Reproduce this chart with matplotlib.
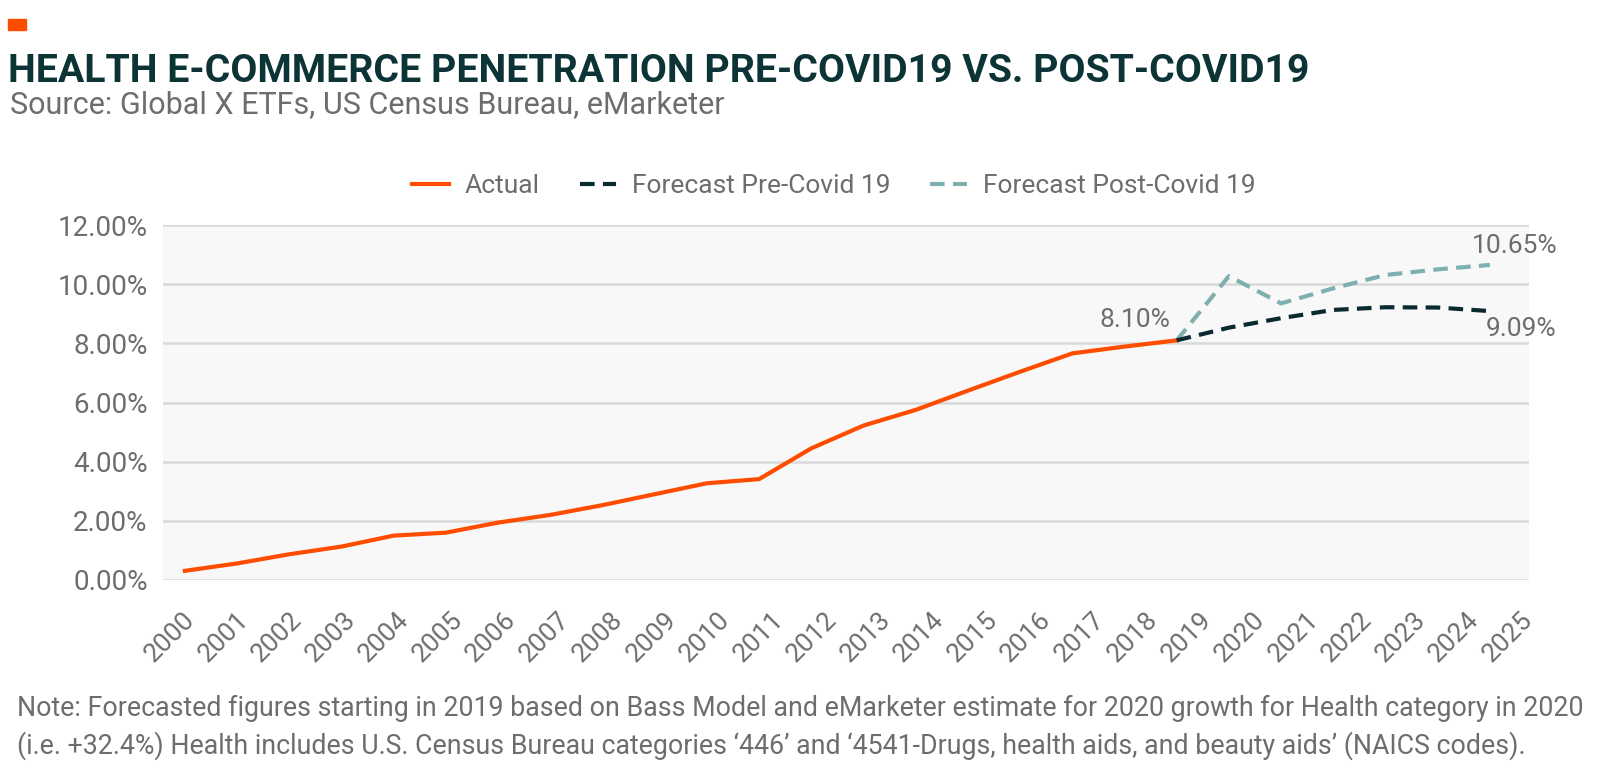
import numpy as np
import matplotlib
matplotlib.use("Agg")
import matplotlib.pyplot as plt
from matplotlib.ticker import FuncFormatter

plt.rcParams['font.family'] = ['Roboto', 'DejaVu Sans']

# data
years = [str(y) for y in range(2000, 2026)]
actual = [0.31, 0.56, 0.87, 1.13, 1.50, 1.60, 1.94, 2.20, 2.53, 2.90,
          3.27, 3.41, 4.45, 5.22, 5.75, 6.40, 7.04, 7.66, 7.89, 8.10]
pre_covid = [8.10, 8.53, 8.85, 9.13, 9.22, 9.21, 9.09]
post_covid = [8.10, 10.27, 9.35, 9.86, 10.31, 10.50, 10.65]
yticks = [0, 2, 4, 6, 8, 10, 12]

orange = '#FF4D00'
dark = '#0B2A30'
light = '#7FB0B0'
grey = '#6D6D6D'

fig = plt.figure(figsize=(16.04, 7.80), dpi=100)
ax = fig.add_axes([163/1604, 1-580/780, (1529-163)/1604, (580-225)/780])
ax.set_facecolor('#F8F8F8')

x_act = np.arange(len(actual))
x_fc = np.arange(len(actual)-1, len(actual)-1+len(pre_covid))

ax.plot(x_act, actual, color=orange, lw=3, label='Actual', zorder=3)
ax.plot(x_fc, pre_covid, color=dark, lw=3, dashes=(3.5, 2), label='Forecast Pre-Covid 19', zorder=3)
ax.plot(x_fc, post_covid, color=light, lw=3, dashes=(3.5, 2), label='Forecast Post-Covid 19', zorder=2)

ax.set_xlim(-0.42, 25.75)
ax.set_ylim(0, 12)
ax.set_yticks(yticks)
ax.yaxis.set_major_formatter(FuncFormatter(lambda v, p: f'{v:.2f}%'))
ax.grid(axis='y', color='#D9D9D9', lw=1.8)
ax.set_axisbelow(True)
for s in ax.spines.values():
    s.set_visible(False)
ax.tick_params(axis='both', length=0, labelsize=20, colors=grey)
ax.tick_params(axis='y', pad=11)

# category labels sit slightly wider apart than the plotted points in the original
ax.set_xticks(np.arange(len(years)) * 1.025 - 0.04)
ax.set_xticklabels(years, rotation=45, ha='right', va='top', rotation_mode='anchor')
ax.tick_params(axis='x', pad=20, labelsize=19)

# value labels
ax.annotate('8.10%', (x_act[-1], actual[-1]), xytext=(-6, 8), textcoords='offset pixels',
            ha='right', va='bottom', fontsize=19, color=grey)
ax.annotate('10.65%', (x_fc[-1], post_covid[-1]), xytext=(-18, 7), textcoords='offset pixels',
            ha='left', va='bottom', fontsize=19, color=grey)
ax.annotate('9.09%', (x_fc[-1], pre_covid[-1]), xytext=(-4, -6), textcoords='offset pixels',
            ha='left', va='top', fontsize=19, color=grey)

fig.legend(loc='center', bbox_to_anchor=(834/1604, 1-186/780), ncol=3, frameon=False,
           fontsize=19, labelcolor=grey, handlelength=1.4, columnspacing=1.5, handletextpad=0.6)

# header
fig.patches.append(plt.Rectangle((8/1604, 1-30/780), 18/1604, 11/780, transform=fig.transFigure,
                                 color=orange, zorder=5))
fig.text(8/1604, 1-82/780, 'HEALTH E-COMMERCE PENETRATION PRE-COVID19 VS. POST-COVID19',
         fontsize=28.3, fontweight='bold', color='#0C3336', ha='left', va='baseline')
fig.text(10/1604, 1-113/780, 'Source: Global X ETFs, US Census Bureau, eMarketer',
         fontsize=22, color=grey, ha='left', va='baseline')

fig.text(17/1604, 1-716/780,
         'Note: Forecasted figures starting in 2019 based on Bass Model and eMarketer estimate for 2020 growth for Health category in 2020',
         fontsize=19.3, color=grey, ha='left', va='baseline')
fig.text(17/1604, 1-754/780,
         "(i.e. +32.4%) Health includes U.S. Census Bureau categories \u2018446\u2019 and \u20184541-Drugs, health aids, and beauty aids\u2019 (NAICS codes).",
         fontsize=19.3, color=grey, ha='left', va='baseline')

fig.savefig('out.png', dpi=100)
